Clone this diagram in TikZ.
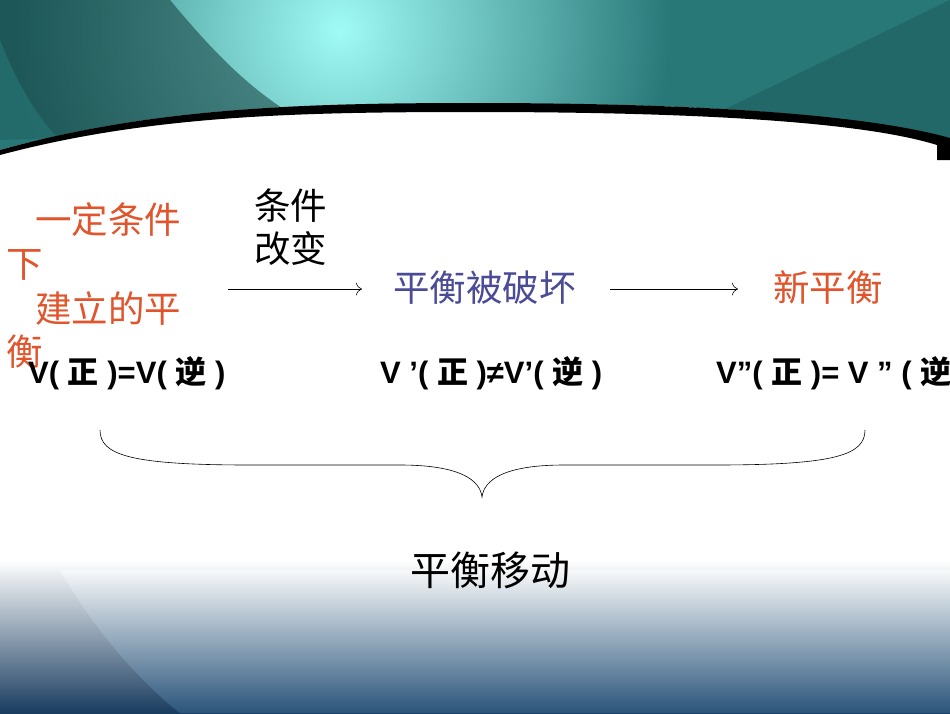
\documentclass[tikz,border=0pt]{standalone}
\usepackage{fontspec}
\setmainfont{Liberation Sans}
\newfontfamily\cjk{Noto Sans CJK SC}
\usetikzlibrary{arrows.meta}
\definecolor{tealA}{RGB}{40,120,120}
\definecolor{tealB}{RGB}{160,250,245}
\definecolor{tealD}{RGB}{20,60,60}
\definecolor{redT}{RGB}{225,85,45}
\definecolor{blueT}{RGB}{75,75,150}
\definecolor{botD}{RGB}{25,60,95}
\definecolor{botL}{RGB}{60,110,150}
\begin{document}
\begin{tikzpicture}[x=1pt,y=-1pt,
  zh/.style={font=\cjk\fontsize{36.5}{44}\selectfont, inner sep=0pt},
  eq/.style={font=\fontsize{31}{36}\selectfont\bfseries, inner sep=0pt},
  arr/.style={-{To[length=6pt]}, line width=0.6pt}]
\useasboundingbox (0,0) rectangle (950,713);
\fill[white] (0,0) rectangle (950,713);
% top banner
\begin{scope}
\clip (0,0) -- (950,0) -- (950,140) .. controls (850,110) and (650,103) .. (475,103) .. controls (300,103) and (150,108) .. (0,150) -- cycle;
\fill[tealA] (0,0) rectangle (950,160);
\shade[inner color=tealB, outer color=tealA] (340,30) circle (330);
\fill[tealD, opacity=0.55] (0,0) -- (170,0) .. controls (220,60) and (260,100) .. (320,130) -- (0,140) -- cycle;
\fill[tealA, opacity=0.6] (0,40) .. controls (20,90) and (40,120) .. (60,140) -- (0,140) -- cycle;
\fill[tealD, opacity=0.25] (620,160) -- (950,0) -- (950,160) -- cycle;
\end{scope}
\fill[black] (0,150) .. controls (150,108) and (300,103) .. (475,103) .. controls (650,103) and (850,110) .. (950,138) -- (950,160) -- (937,160) -- (937,145) .. controls (850,118) and (650,112) .. (475,112) .. controls (300,112) and (150,115) .. (0,155) -- cycle;
% bottom gradient
\shade[top color=white, bottom color=botD] (0,560) rectangle (950,713);
\shade[top color=white, bottom color=botL, opacity=0.5] (60,570) .. controls (100,640) and (150,690) .. (180,713) -- (950,713) -- (950,570) -- cycle;
% texts
\node[zh, text=redT, anchor=west] (t1) at (35,220) {一定条件};
\node[zh, text=redT, anchor=west] (t2) at (6,265) {下};
\node[zh, text=redT, anchor=west] (t3) at (35,309) {建立的平};
\node[zh, text=redT, anchor=west] (t4) at (6,352) {衡};
\node[zh, anchor=west] (c1) at (254,206) {条件};
\node[zh, anchor=west] (c2) at (254,249) {改变};
\node[zh, text=blueT, anchor=west] (b) at (393,288) {平衡被破坏};
\node[zh, text=redT, anchor=west] (n) at (773,288) {新平衡};
\coordinate (a1s) at (228,289); \coordinate (a1e) at (362,289);
\coordinate (a2s) at (610,289); \coordinate (a2e) at (738,289);
\draw[arr] (a1s) -- (a1e);
\draw[arr] (a2s) -- (a2e);
\node[eq, anchor=west] (e1) at (28,373) {V( {\cjk 正} )=V( {\cjk 逆} )};
\node[eq, anchor=west] (e2) at (380,373) {V ’( {\cjk 正} )≠V’( {\cjk 逆} )};
\node[eq, anchor=west] (e3) at (716,373) {V”( {\cjk 正} )= V ” ( {\cjk 逆} )};
\coordinate (bl) at (100,430); \coordinate (br) at (865,430);
\draw[line width=0.6pt] (bl) .. controls (100,455) and (130,465) .. (250,465) -- (400,465) .. controls (460,465) and (480,480) .. (482,497) .. controls (484,480) and (504,465) .. (564,465) -- (715,465) .. controls (835,465) and (865,455) .. (br);
\node[zh, font=\cjk\fontsize{40}{46}\selectfont] (m) at (490,570) {平衡移动};
\end{tikzpicture}
\end{document}
